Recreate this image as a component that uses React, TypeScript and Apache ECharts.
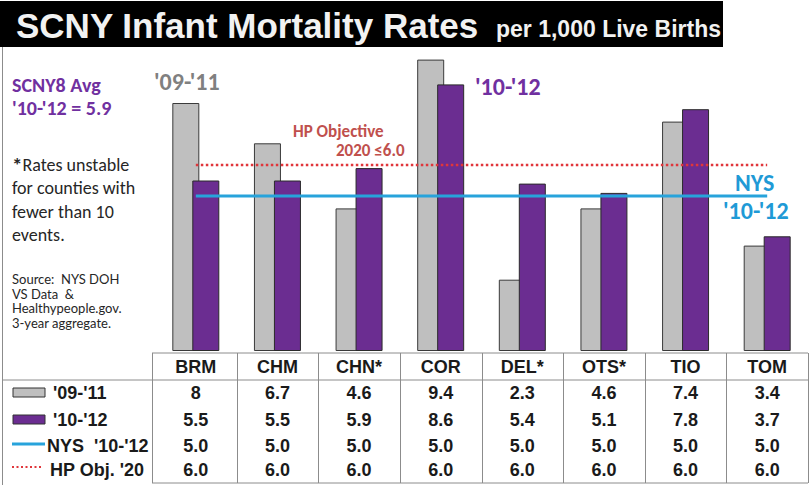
import React, { useEffect, useRef } from "react";
import * as echarts from "echarts";

const categories = ["BRM", "CHM", "CHN*", "COR", "DEL*", "OTS*", "TIO", "TOM"];
const rates0911 = [8, 6.7, 4.6, 9.4, 2.3, 4.6, 7.4, 3.4];
const rates1012 = [5.5, 5.5, 5.9, 8.6, 5.4, 5.1, 7.8, 3.7];
const nys1012 = [5.0, 5.0, 5.0, 5.0, 5.0, 5.0, 5.0, 5.0];
const hpObj2020 = [6.0, 6.0, 6.0, 6.0, 6.0, 6.0, 6.0, 6.0];
const rowLabels = ["'09-'11", "'10-'12", "NYS  '10-'12", "HP Obj. '20"];
const sourceLines = ["Source:  NYS DOH", "VS Data  &", "Healthypeople.gov.", "3-year aggregate."];

const NARROW = "'Liberation Sans Narrow', 'Arial Narrow', 'Liberation Sans', sans-serif";
const CAL = "Carlito, Calibri, Lato, sans-serif";

const GRAY = "#bfbfbf";
const PURPLE = "#6b2d91";
const BLUE = "#27a3db";
const RED = "#e0363b";
const LINE = "#8c8c8c";

const GRID_LEFT = 155;
const GRID_RIGHT = 2;

export default function App() {
  const ref = useRef<HTMLDivElement>(null);
  useEffect(() => {
    if (!ref.current) return;
    const chart = echarts.init(ref.current, undefined, { renderer: "svg" });

    const fmt1 = (v: number) => v.toFixed(1);
    const rowAxis = (vals: string[], margin: number) => ({
      type: "category",
      data: categories,
      gridIndex: 0,
      position: "bottom",
      axisLine: { show: false },
      axisTick: { show: false },
      splitLine: { show: false },
      axisLabel: {
        interval: 0,
        margin,
        verticalAlign: "middle",
        fontFamily: NARROW,
        fontWeight: "bold",
        fontSize: 18,
        color: "#1a1a1a",
        formatter: (_v: string, i: number) => vals[i],
      },
    });

    const tableTop = 353;
    const headBottom = 380;
    const tableBottom = 483;
    const colW = (810 - GRID_LEFT - GRID_RIGHT) / categories.length;
    const tableRight = 810 - GRID_RIGHT;
    const tableLeft = 152;

    const graphics: any[] = [
      { type: "rect", shape: { x: 0, y: 1, width: 723, height: 46 }, style: { fill: "#000" } },
      {
        type: "text", x: 16, y: 25,
        style: { text: "SCNY Infant Mortality Rates", fill: "#f2f2f2", font: `bold 35px ${NARROW}`, verticalAlign: "middle" },
      },
      {
        type: "text", x: 496, y: 29,
        style: { text: "per 1,000 Live Births", fill: "#f2f2f2", font: `bold 23px ${NARROW}`, verticalAlign: "middle" },
      },
      { type: "line", shape: { x1: 2.5, y1: 47, x2: 2.5, y2: 485 }, style: { stroke: LINE, lineWidth: 1 } },
      // table frame
      { type: "line", shape: { x1: tableLeft, y1: tableTop, x2: tableRight, y2: tableTop }, style: { stroke: LINE, lineWidth: 1 } },
      { type: "line", shape: { x1: 3, y1: headBottom, x2: tableRight, y2: headBottom }, style: { stroke: LINE, lineWidth: 1 } },
      { type: "line", shape: { x1: tableLeft, y1: tableBottom, x2: tableRight, y2: tableBottom }, style: { stroke: LINE, lineWidth: 1 } },
      // left panel
      { type: "text", x: 12, y: 85, style: { text: "SCNY8 Avg", fill: "#7030a0", font: `bold 20px ${CAL}`, verticalAlign: "middle" } },
      { type: "text", x: 12, y: 108, style: { text: "'10-'12 = 5.9", fill: "#7030a0", font: `bold 20px ${CAL}`, verticalAlign: "middle" } },
      {
        type: "text", x: 12, y: 165,
        style: {
          text: "{s|*}Rates unstable", fill: "#262626", font: `18px ${CAL}`, verticalAlign: "middle",
          rich: { s: { font: `bold 21px ${CAL}`, fill: "#262626", verticalAlign: "top" } },
        },
      },
      { type: "text", x: 12, y: 188, style: { text: "for counties with", fill: "#262626", font: `18px ${CAL}`, verticalAlign: "middle" } },
      { type: "text", x: 12, y: 212, style: { text: "fewer than 10", fill: "#262626", font: `18px ${CAL}`, verticalAlign: "middle" } },
      { type: "text", x: 12, y: 235, style: { text: "events.", fill: "#262626", font: `18px ${CAL}`, verticalAlign: "middle" } },
      // annotations
      { type: "text", x: 154, y: 81, style: { text: "'09-'11", fill: "#808080", font: `bold 24px ${CAL}`, verticalAlign: "middle" } },
      { type: "text", x: 475, y: 86, style: { text: "'10-'12", fill: "#7030a0", font: `bold 24px ${CAL}`, verticalAlign: "middle" } },
      { type: "text", x: 293, y: 131, style: { text: "HP Objective", fill: "#c0504d", font: `bold 17px ${CAL}`, verticalAlign: "middle" } },
      { type: "text", x: 336, y: 150.5, style: { text: "2020 \u22646.0", fill: "#c0504d", font: `bold 17px ${CAL}`, verticalAlign: "middle" } },
      { type: "text", x: 735, y: 182, style: { text: "NYS", fill: "#1f9ad6", font: `bold 24px ${CAL}`, verticalAlign: "middle" } },
      { type: "text", x: 723, y: 210, style: { text: "'10-'12", fill: "#1f9ad6", font: `bold 24px ${CAL}`, verticalAlign: "middle" } },
      // table legend keys
      { type: "rect", shape: { x: 13, y: 388, width: 32, height: 9 }, style: { fill: GRAY, stroke: "#333", lineWidth: 1 } },
      { type: "rect", shape: { x: 13, y: 415, width: 32, height: 9 }, style: { fill: PURPLE, stroke: "#333", lineWidth: 1 } },
      { type: "line", shape: { x1: 12, y1: 444, x2: 45, y2: 444 }, style: { stroke: BLUE, lineWidth: 3 } },
      { type: "line", shape: { x1: 12, y1: 467, x2: 41, y2: 467 }, style: { stroke: RED, lineWidth: 2, lineDash: [2, 2.5] } },
      { type: "text", x: 53, y: 393, style: { text: rowLabels[0], fill: "#1a1a1a", font: `bold 18px ${NARROW}`, verticalAlign: "middle" } },
      { type: "text", x: 53, y: 420, style: { text: rowLabels[1], fill: "#1a1a1a", font: `bold 18px ${NARROW}`, verticalAlign: "middle" } },
      { type: "text", x: 47, y: 446, style: { text: rowLabels[2], fill: "#1a1a1a", font: `bold 18px ${NARROW}`, verticalAlign: "middle" } },
      { type: "text", x: 50, y: 470, style: { text: rowLabels[3], fill: "#1a1a1a", font: `bold 18px ${NARROW}`, verticalAlign: "middle" } },
    ];
    sourceLines.forEach((t, i) => {
      graphics.push({
        type: "text", x: 12, y: 279 + i * 14.7,
        style: { text: t, fill: "#262626", font: `13px Lato, ${CAL}`, verticalAlign: "middle" },
      });
    });
    for (let i = 0; i <= categories.length; i++) {
      const x = i === 0 ? tableLeft + 0.5 : Math.round(GRID_LEFT + i * colW) + 0.5;
      graphics.push({ type: "line", shape: { x1: x, y1: tableTop, x2: x, y2: tableBottom }, style: { stroke: LINE, lineWidth: 1 } });
    }

    chart.setOption({
      animation: false,
      backgroundColor: "#ffffff",
      grid: { left: GRID_LEFT, right: GRID_RIGHT, top: 41, bottom: 134 },
      xAxis: [
        {
          type: "category",
          data: categories,
          position: "bottom",
          axisLine: { show: false },
          axisTick: { show: false },
          axisLabel: {
            interval: 0,
            margin: 16,
            verticalAlign: "middle",
            fontFamily: NARROW,
            fontWeight: "bold",
            fontSize: 18,
            color: "#1a1a1a",
          },
        },
        rowAxis(rates0911.map((v) => String(v)), 42),
        rowAxis(rates1012.map((v) => String(v)), 69),
        rowAxis(nys1012.map(fmt1), 95),
        rowAxis(hpObj2020.map(fmt1), 119),
      ],
      yAxis: { type: "value", min: 0, max: 10, show: false, splitLine: { show: false } },
      series: [
        {
          name: "'09-'11", type: "bar", data: rates0911, barWidth: 27, barGap: "-26%",
          itemStyle: { color: GRAY, borderColor: "#3a3a3a", borderWidth: 1 },
        },
        {
          name: "'10-'12", type: "bar", data: rates1012, barWidth: 27,
          itemStyle: { color: PURPLE, borderColor: "#2a2a2a", borderWidth: 1 },
        },
        {
          name: "NYS '10-'12", type: "line", data: nys1012, symbol: "none", z: 5,
          lineStyle: { color: BLUE, width: 3 },
        },
        {
          name: "HP Obj. '20", type: "line", data: hpObj2020, symbol: "none", z: 5,
          lineStyle: { color: RED, width: 2.5, type: [2.5, 2.5] },
        },
      ],
      graphic: graphics,
    });
    return () => chart.dispose();
  }, []);
  return (
    <div
      ref={ref}
      style={{ position: "fixed", left: 0, top: 0, width: 810, height: 485, background: "#fff" }}
    />
  );
}
